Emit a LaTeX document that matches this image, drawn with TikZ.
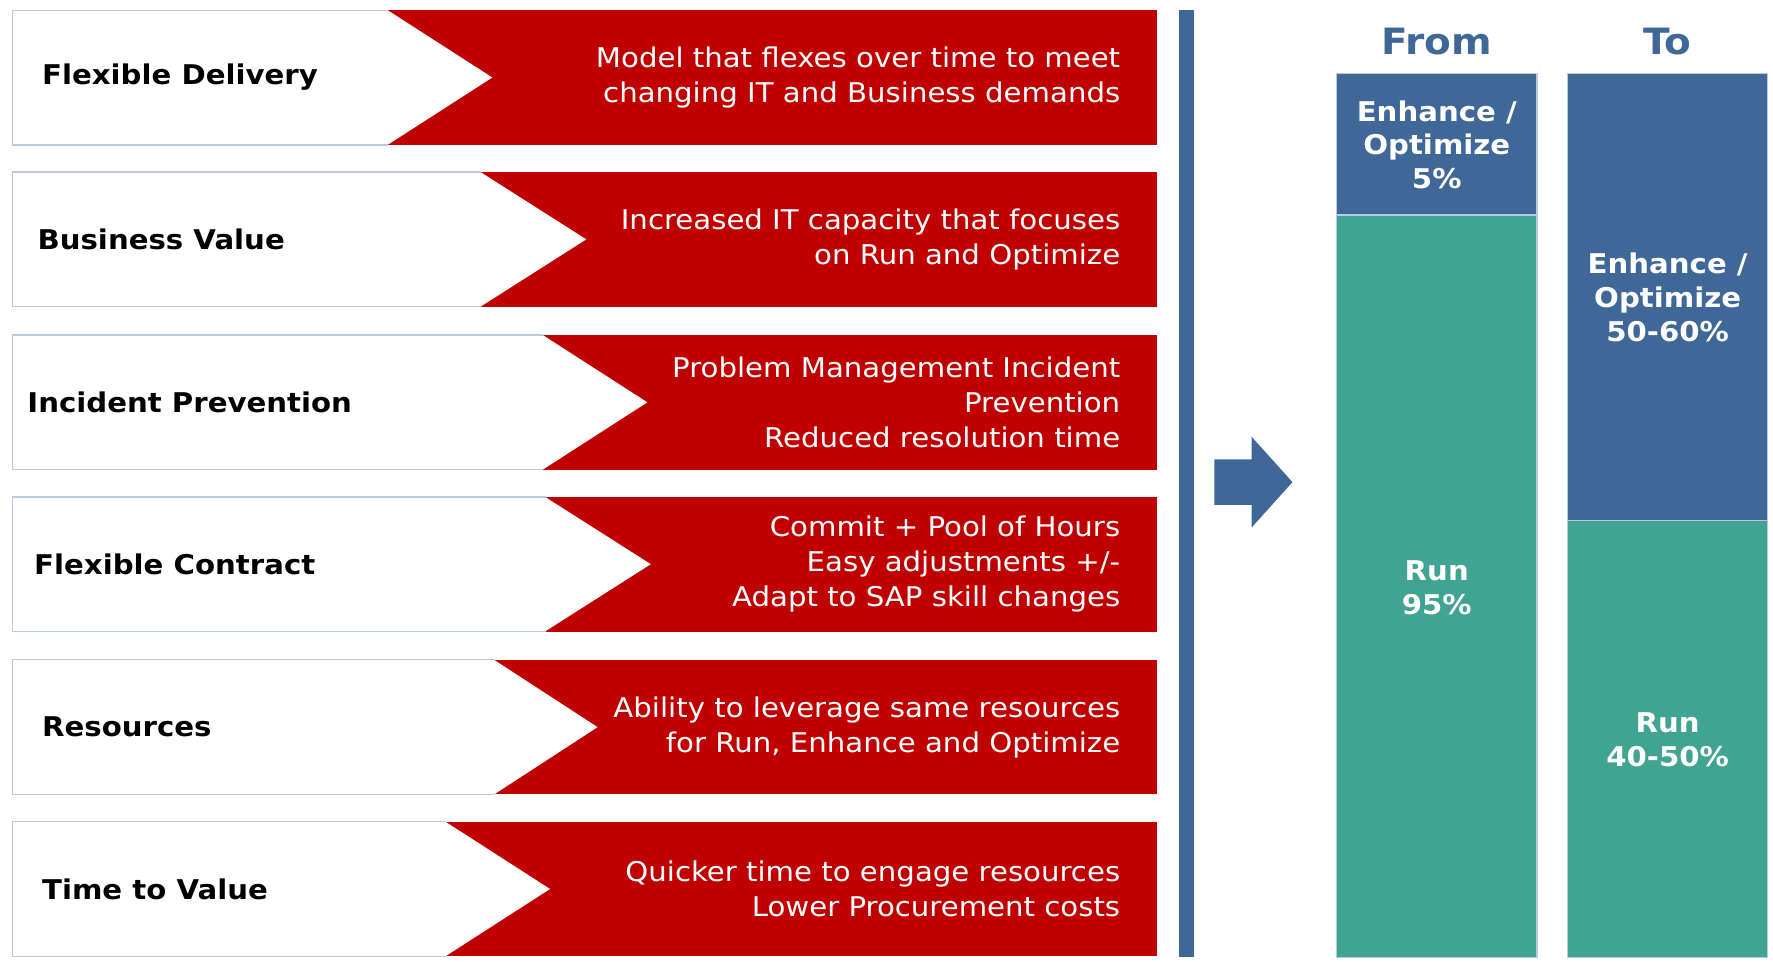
\documentclass[tikz,border=0pt]{standalone}
\usepackage{fontspec}
\setmainfont[FakeStretch=1.075]{DejaVu Sans}
\definecolor{cred}{HTML}{C00000}
\definecolor{cblue}{HTML}{3F6899}
\definecolor{cteal}{HTML}{41A391}
\definecolor{cborder}{HTML}{BAC8E3}
\begin{document}
\begin{tikzpicture}[x=1pt,y=-1pt,
  labeltext/.style={anchor=west,inner sep=0pt,font=\fontsize{24}{29}\selectfont\bfseries,text=black},
  desctext/.style={anchor=east,inner sep=0pt,align=right,font=\fontsize{24}{31}\selectfont,text=white},
  bartext/.style={inner sep=0pt,align=center,font=\fontsize{24}{30}\selectfont\bfseries,text=white},
  headtext/.style={inner sep=0pt,font=\fontsize{32}{38}\selectfont\bfseries,text=cblue},
  barseg/.style={draw=cborder,line width=1.2pt}]
\useasboundingbox (0,0) rectangle (1566.6,850);
% rows: top / white end / tip x / label x / label / description
\foreach \n/\t/\w/\p/\lx/\lab/\desc in {
  1/9/343/435/37/{Flexible Delivery}/{Model that flexes over time to meet\\changing IT and Business demands},
  2/152/425/518/33/{Business Value}/{Increased IT capacity that focuses\\on Run and Optimize},
  3/296/480/572/24/{Incident Prevention}/{Problem Management Incident\\Prevention\\Reduced resolution time},
  4/439/482/575/30/{Flexible Contract}/{Commit + Pool of Hours\\Easy adjustments +/-\\Adapt to SAP skill changes},
  5/583/437/528/37/{Resources}/{Ability to leverage same resources\\for Run{,} Enhance and Optimize},
  6/726/394/486/37/{Time to Value}/{Quicker time to engage resources\\Lower Procurement costs}}{
  \pgfmathsetmacro{\b}{\t+119}
  \pgfmathsetmacro{\c}{\t+59.5}
  \fill[cred] (\w,\t) rectangle (1022,\b);
  \fill[white] (11,\t) rectangle (\w,\b);
  \fill[white] (\w-0.5,\t) -- (\p,\c) -- (\w-0.5,\b) -- cycle;
  \draw[cborder,line width=1.2pt] (\w,\t) -- (11,\t) -- (11,\b) -- (\w,\b);
  \node[labeltext] (lab\n) at (\lx,\c) {\lab};
  \node[desctext] (desc\n) at (990,\c) {\desc};
}
% divider
\fill[cblue] (1042,9) rectangle (1055,846);
% arrow
\fill[cblue] (1073,406) -- (1106,406) -- (1106,386) -- (1142,426) -- (1106,466) -- (1106,446) -- (1073,446) -- cycle;
% headers
\node[headtext] (from) at (1269.5,37) {From};
\node[headtext] (to) at (1473.5,37) {To};
% From bar
\fill[cblue] (1181,65) rectangle (1358,190);
\fill[cteal] (1181,190) rectangle (1358,846);
\draw[barseg] (1181,65) rectangle (1358,190);
\draw[barseg] (1181,190) rectangle (1358,846);
\node[bartext] (fromenh) at (1269.5,128) {Enhance /\\Optimize\\5\%};
\node[bartext] (fromrun) at (1269.5,519.5) {Run\\95\%};
% To bar
\fill[cblue] (1385,65) rectangle (1562,460);
\fill[cteal] (1385,460) rectangle (1562,846);
\draw[barseg] (1385,65) rectangle (1562,460);
\draw[barseg] (1385,460) rectangle (1562,846);
\node[bartext] (toenh) at (1473.5,263) {Enhance /\\Optimize\\50-60\%};
\node[bartext] (torun) at (1473.5,653.5) {Run\\40-50\%};
\end{tikzpicture}
\end{document}
